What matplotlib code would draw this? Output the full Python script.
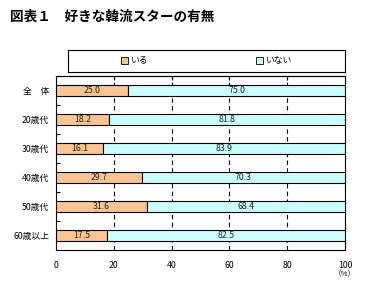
import matplotlib
matplotlib.use("Agg")
import matplotlib.pyplot as plt
from matplotlib.patches import Patch
from matplotlib.ticker import FixedLocator

plt.rcParams['font.family'] = ['Noto Sans CJK JP', 'DejaVu Sans']

categories = ['全　体', '20歳代', '30歳代', '40歳代', '50歳代', '60歳以上']
iru = [25.0, 18.2, 16.1, 29.7, 31.6, 17.5]
inai = [75.0, 81.8, 83.9, 70.3, 68.4, 82.5]
series_names = ['いる', 'いない']
xticks = [0, 20, 40, 60, 80, 100]

c1 = '#FAC592'
c2 = '#CCFFFF'

fig = plt.figure(figsize=(3.78, 2.84), dpi=100)
W, H = 378, 284
ax = fig.add_axes([56 / W, 1 - 250 / H, (345 - 56) / W, (250 - 76) / H])

y = list(range(len(categories)))
bh = 0.4
ax.barh(y, iru, height=bh, color=c1, edgecolor='black', linewidth=0.8, zorder=3)
ax.barh(y, inai, left=iru, height=bh, color=c2, edgecolor='black', linewidth=0.8, zorder=3)

for yi, a, b in zip(y, iru, inai):
    ax.text(a / 2, yi, f'{a:.1f}', ha='center', va='center', fontsize=6.3, color='#222222', zorder=4)
    ax.text(a + b / 2, yi, f'{b:.1f}', ha='center', va='center', fontsize=6.3, color='#222222', zorder=4)

ax.set_xlim(0, 100)
ax.set_ylim(len(categories) - 0.5, -0.5)
ax.set_xticks(xticks)
ax.set_xticklabels([str(t) for t in xticks], fontsize=6.3)
ax.tick_params(axis='x', which='major', length=0, pad=8)
for gx in xticks[1:-1]:
    ax.axvline(gx, color='black', linestyle=(0, (4, 3)), linewidth=0.8, zorder=1)
# top tick marks
sec = ax.secondary_xaxis('top')
sec.set_xticks(xticks[1:-1])
sec.tick_params(direction='in', length=3, width=0.8, labeltop=False)

ax.set_yticks(y)
ax.set_yticklabels(categories, fontsize=6.3)
ax.tick_params(axis='y', which='major', length=0, pad=5)
ax.yaxis.set_minor_locator(FixedLocator([i + 0.5 for i in y[:-1]]))
ax.tick_params(axis='y', which='minor', direction='in', length=3, width=0.8)

for s in ax.spines.values():
    s.set_linewidth(0.8)
    s.set_color('black')

fig.text(345 / W, 1 - 274 / H, '（%）', fontsize=5.5, ha='center', va='center')

fig.text(10 / W, 1 - 17 / H, '図表１　好きな韓流スターの有無', fontsize=9.8, fontweight='bold',
         ha='left', va='center')

# legend box
lax = fig.add_axes([68 / W, 1 - 72 / H, (345 - 68) / W, (72 - 50) / H])
lax.set_xticks([])
lax.set_yticks([])
for s in lax.spines.values():
    s.set_linewidth(0.8)
handles = [Patch(facecolor=c1, edgecolor='black', linewidth=0.6),
           Patch(facecolor=c2, edgecolor='black', linewidth=0.6)]
lax.legend(handles, series_names, loc='center', ncol=2, frameon=False, fontsize=6.3,
           handlelength=0.8, handleheight=0.8, handletextpad=0.3, columnspacing=12.3)

fig.savefig('out.png', dpi=100)
